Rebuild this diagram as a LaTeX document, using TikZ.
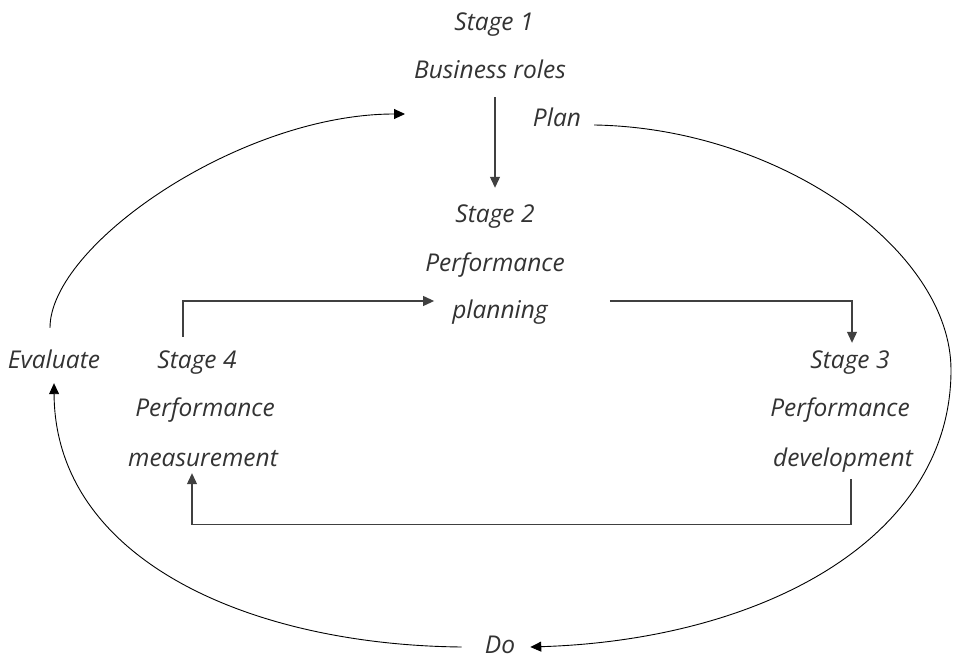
\documentclass[tikz,border=0pt]{standalone}
\usepackage{fontspec}
\setmainfont{Open Sans}
\usetikzlibrary{arrows.meta,positioning}

\tikzset{
  lbl/.style={font=\fontsize{24.5}{28}\selectfont\itshape, text=black!80,
    inner sep=0pt, text height=18pt, text depth=0pt},
  flow/.style={line width=1.1pt, draw=black!75, -{Triangle[length=11pt,width=10pt]}},
  cycle/.style={line width=0.9pt, draw=black, -{Triangle[length=11pt,width=10pt]}}
}

\begin{document}
\begin{tikzpicture}[x=1pt,y=1pt]
\useasboundingbox (0,0) rectangle (955,659);
% Stage 1
\node[lbl] (s1a) at (494,637) {Stage 1};
\node[lbl] (s1b) at (490,589) {Business roles};
\node[lbl] (plan) at (557,541) {Plan};
% Stage 2
\node[lbl] (s2a) at (495,445) {Stage 2};
\node[lbl] (s2b) at (495,396) {Performance};
\node[lbl] (s2c) at (500,349) {planning};
% Stage 3
\node[lbl] (s3a) at (850,299) {Stage 3};
\node[lbl] (s3b) at (840,251) {Performance};
\node[lbl] (s3c) at (843,202) {development};
% Stage 4
\node[lbl] (s4a) at (197,299) {Stage 4};
\node[lbl] (s4b) at (205,251) {Performance};
\node[lbl] (s4c) at (203,202) {measurement};
% outer cycle labels
\node[lbl] (eval) at (54,299) {Evaluate};
\node[lbl] (do) at (500,15) {Do};
\coordinate (top) at (405,545);

% inner flow
\draw[flow] (s1b.south -| s2a) ++(0,-18) -- ([yshift=17pt]s2a.north);
\draw[flow] ([xshift=-14pt,yshift=14pt]s4a.north) |- ([xshift=-18pt,yshift=9pt]s2c.west);
\draw[flow] ([xshift=62pt,yshift=9pt]s2c.east) -| ([xshift=2pt,yshift=8pt]s3a.north);
\draw[flow] ([xshift=8pt,yshift=-13pt]s3c.south) -- ++(0,-45) -| ([xshift=-11pt,yshift=-7pt]s4c.south);

% outer cycle
\draw[cycle] ([xshift=13pt,yshift=-7pt]plan.east) .. controls (780,531) and (951,409) .. (951,289)
  .. controls (951,119) and (760,19) .. ([xshift=15pt,yshift=-3pt]do.east);
\draw[cycle] ([xshift=-23pt,yshift=-3pt]do.west) .. controls (250,14) and (55,99) .. ([yshift=-14pt]eval.south);
\draw[cycle] ([xshift=-4pt,yshift=23pt]eval.north) .. controls (50,414) and (240,545) .. (top);
\end{tikzpicture}
\end{document}
